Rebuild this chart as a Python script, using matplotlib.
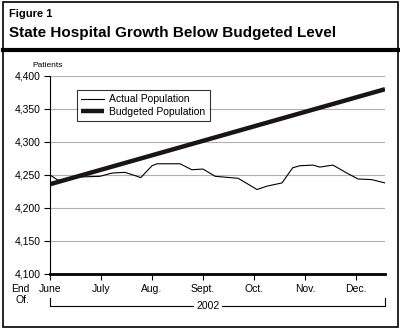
import matplotlib
matplotlib.use("Agg")
import matplotlib.pyplot as plt
import matplotlib.transforms as mtransforms
from matplotlib.patches import Rectangle
from matplotlib.lines import Line2D

plt.rcParams['font.family'] = ['Liberation Sans', 'DejaVu Sans']

# months since end of June
months = ['June', 'July', 'Aug.', 'Sept.', 'Oct.', 'Nov.', 'Dec.']
actual_t = [0.0, 0.16, 0.59, 0.98, 1.22, 1.47, 1.71, 1.78, 2.0, 2.1, 2.55, 2.78,
            3.0, 3.24, 3.69, 4.06, 4.25, 4.55, 4.76, 4.90, 5.16, 5.29, 5.55,
            5.82, 6.04, 6.31, 6.57]
actual_pop = [4250, 4242, 4247, 4248, 4253, 4254, 4248, 4246, 4264, 4267, 4267, 4258,
              4259, 4248, 4245, 4228, 4233, 4238, 4261, 4264, 4265, 4262, 4265,
              4253, 4244, 4243, 4238]
budget_t = [0.0, 6.57]
budget_pop = [4236, 4380]
y_ticks = [4100, 4150, 4200, 4250, 4300, 4350, 4400]

fig = plt.figure(figsize=(4.0, 3.3), dpi=100)
ax = fig.add_axes([0.125, 0.1697, 0.8375, 0.6])

ax.plot(actual_t, actual_pop, color='black', lw=0.8, label='Actual Population')
ax.plot(budget_t, budget_pop, color='#1a1416', lw=3.2, label='Budgeted Population',
        solid_capstyle='butt')

ax.set_xlim(0, 6.57)
ax.set_ylim(4100, 4400)
ax.set_yticks(y_ticks)
ax.set_yticklabels([f'{v:,}' for v in y_ticks], fontsize=7.5)
ax.set_xticks(range(len(months)))
ax.set_xticklabels(months, fontsize=7.5)
ax.yaxis.grid(True, color='#b0b0b0', lw=0.8)
ax.set_axisbelow(True)
for s in ['top', 'right']:
    ax.spines[s].set_visible(False)
ax.spines['left'].set_linewidth(0.8)
ax.spines['bottom'].set_linewidth(2.0)
ax.tick_params(axis='both', direction='out', length=4, width=0.8, pad=3)
ax.tick_params(axis='x', pad=3)

leg = ax.legend(loc='upper left', bbox_to_anchor=(0.065, 0.955), fontsize=7.5,
                frameon=True, fancybox=False, edgecolor='black', handlelength=2.2,
                borderpad=0.4, labelspacing=0.25, handletextpad=0.5)
leg.get_frame().set_linewidth(0.8)

ax.text(-0.054, 1.035, 'Patients', transform=ax.transAxes, fontsize=6, ha='left', va='bottom')

# "End Of." and the 2002 bracket under the month labels
fig.text(0.052, 1 - 289 / 330, 'End', fontsize=7.5, ha='center', va='center')
fig.text(0.055, 1 - 300 / 330, 'Of.', fontsize=7.5, ha='center', va='center')
tr = mtransforms.blended_transform_factory(ax.transData, ax.transAxes)
yb, yt = -0.162, -0.121
ax.plot([0, 0, 2.8], [yt, yb, yb], color='black', lw=0.8, transform=tr, clip_on=False)
ax.plot([3.38, 6.57, 6.57], [yb, yb, yt], color='black', lw=0.8, transform=tr, clip_on=False)
ax.text(3.1, yb, '2002', transform=tr, fontsize=7.5, ha='center', va='center')

# header and frame
fig.text(0.022, 1 - 14 / 330, 'Figure 1', fontsize=8, fontweight='bold', ha='left', va='center')
fig.text(0.022, 1 - 33 / 330, 'State Hospital Growth Below Budgeted Level', fontsize=11,
         fontweight='bold', ha='left', va='center')
fig.add_artist(Line2D([0.008, 0.994], [1 - 50 / 330, 1 - 50 / 330], color='black', lw=3.0))
fig.add_artist(Rectangle((0.008, 0.01), 0.986, 0.985, fill=False, edgecolor='black', lw=1.2))

fig.savefig('out.png', dpi=100)
